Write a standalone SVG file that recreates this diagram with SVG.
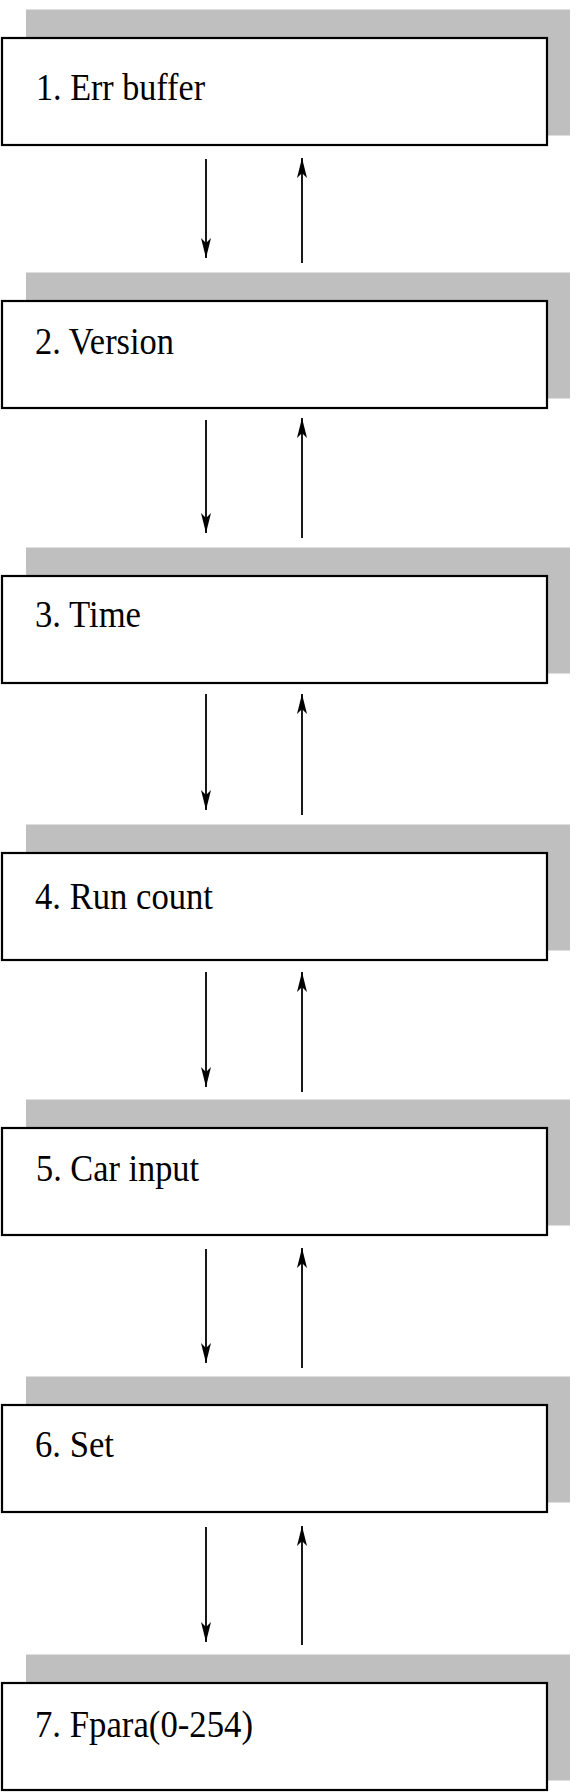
<svg xmlns="http://www.w3.org/2000/svg" width="581" height="1792" viewBox="0 0 581 1792">
<style>
.sh{fill:#bfbfbf}
.bx{fill:#fff;stroke:#000;stroke-width:2.2}
.lb{font-family:"Liberation Serif","Times New Roman",serif;font-size:37px;fill:#000}
.ar{stroke:#000;stroke-width:1.8;fill:none;marker-end:url(#ah)}
</style>
<defs>
<marker id="ah" markerUnits="userSpaceOnUse" markerWidth="22" markerHeight="12" refX="20" refY="6" orient="auto">
<path d="M0,1 L20,6 L0,11 L5,6 Z" fill="#000"/>
</marker>
</defs>
<rect width="581" height="1792" fill="#fff"/>
<g id="node1"><rect class="sh" x="26" y="9.5" width="544" height="126"/><rect class="bx" x="2" y="38" width="545" height="107"/><text class="lb" x="36" y="100" textLength="169" lengthAdjust="spacingAndGlyphs">1. Err buffer</text></g>
<g id="node2"><rect class="sh" x="26" y="272.5" width="544" height="126"/><rect class="bx" x="2" y="301" width="545" height="107"/><text class="lb" x="35" y="354" textLength="139" lengthAdjust="spacingAndGlyphs">2. Version</text></g>
<g id="node3"><rect class="sh" x="26" y="547.5" width="544" height="126"/><rect class="bx" x="2" y="576" width="545" height="107"/><text class="lb" x="35" y="627" textLength="106" lengthAdjust="spacingAndGlyphs">3. Time</text></g>
<g id="node4"><rect class="sh" x="26" y="824.5" width="544" height="126"/><rect class="bx" x="2" y="853" width="545" height="107"/><text class="lb" x="35" y="909" textLength="178" lengthAdjust="spacingAndGlyphs">4. Run count</text></g>
<g id="node5"><rect class="sh" x="26" y="1099.5" width="544" height="126"/><rect class="bx" x="2" y="1128" width="545" height="107"/><text class="lb" x="36" y="1181" textLength="163" lengthAdjust="spacingAndGlyphs">5. Car input</text></g>
<g id="node6"><rect class="sh" x="26" y="1376.5" width="544" height="126"/><rect class="bx" x="2" y="1405" width="545" height="107"/><text class="lb" x="35" y="1457" textLength="79" lengthAdjust="spacingAndGlyphs">6. Set</text></g>
<g id="node7"><rect class="sh" x="26" y="1654.5" width="544" height="126"/><rect class="bx" x="2" y="1683" width="545" height="107"/><text class="lb" x="35" y="1737" textLength="218" lengthAdjust="spacingAndGlyphs">7. Fpara(0-254)</text></g>
<g id="connectors">
<line class="ar" x1="206" y1="159" x2="206" y2="258"/>
<line class="ar" x1="302" y1="263" x2="302" y2="158"/>
<line class="ar" x1="206" y1="420" x2="206" y2="533"/>
<line class="ar" x1="302" y1="538" x2="302" y2="418"/>
<line class="ar" x1="206" y1="694" x2="206" y2="810"/>
<line class="ar" x1="302" y1="815" x2="302" y2="694"/>
<line class="ar" x1="206" y1="972" x2="206" y2="1087"/>
<line class="ar" x1="302" y1="1092" x2="302" y2="972"/>
<line class="ar" x1="206" y1="1249" x2="206" y2="1363"/>
<line class="ar" x1="302" y1="1368" x2="302" y2="1248"/>
<line class="ar" x1="206" y1="1527" x2="206" y2="1642"/>
<line class="ar" x1="302" y1="1645" x2="302" y2="1526"/>
</g>
</svg>
